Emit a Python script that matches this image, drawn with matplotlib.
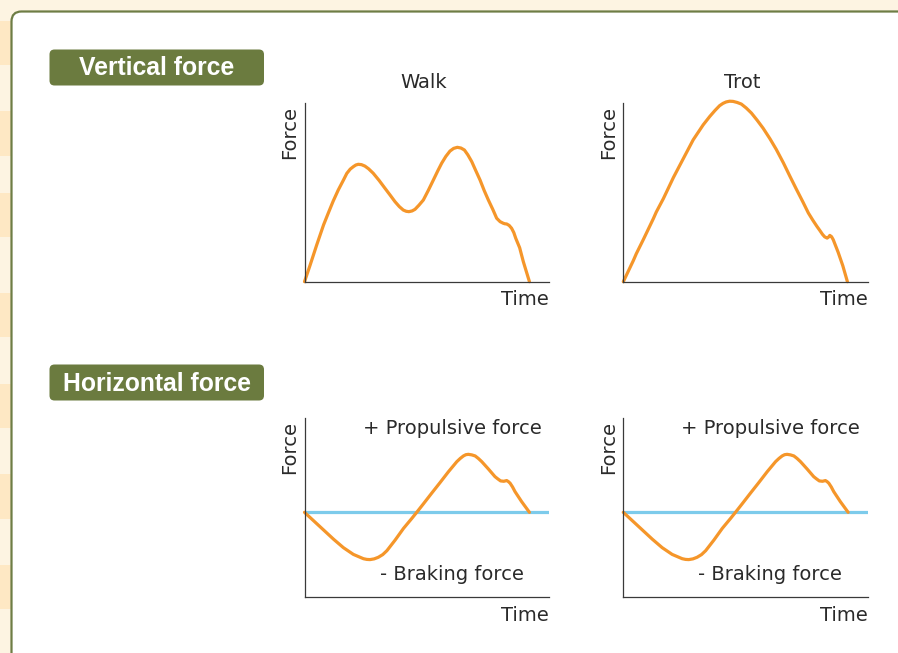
"""
Ground reaction force sketches: vertical / horizontal, walk / trot
"""
import matplotlib.pyplot as plt
from matplotlib.patches import Rectangle, FancyBboxPatch

# data (time and force as fraction of the axis length)
walk_t = [0, 0.023, 0.050, 0.078, 0.097, 0.117, 0.138, 0.159, 0.173, 0.187, 0.200,
          0.210, 0.220, 0.233, 0.247, 0.262, 0.281, 0.305, 0.329, 0.350, 0.370, 0.388,
          0.404, 0.416, 0.427, 0.440, 0.452, 0.468, 0.486, 0.506, 0.527, 0.545, 0.561,
          0.578, 0.595, 0.610, 0.625, 0.640, 0.654, 0.668, 0.684, 0.700, 0.718, 0.735,
          0.752, 0.770, 0.786, 0.800, 0.813, 0.820, 0.827, 0.837, 0.847, 0.856, 0.864,
          0.880, 0.895, 0.920]
walk_f = [0, 0.093, 0.206, 0.318, 0.383, 0.450, 0.513, 0.568, 0.606, 0.630, 0.644,
          0.653, 0.657, 0.655, 0.647, 0.632, 0.607, 0.567, 0.523, 0.485, 0.448, 0.420,
          0.401, 0.394, 0.392, 0.396, 0.405, 0.428, 0.457, 0.510, 0.569, 0.620, 0.663,
          0.701, 0.731, 0.746, 0.752, 0.748, 0.737, 0.710, 0.672, 0.623, 0.569, 0.510,
          0.457, 0.405, 0.355, 0.336, 0.327, 0.324, 0.323, 0.315, 0.299, 0.275, 0.243,
          0.190, 0.112, 0]

trot_t = [0, 0.041, 0.053, 0.082, 0.123, 0.135, 0.164, 0.205, 0.246, 0.286, 0.327,
          0.354, 0.375, 0.394, 0.408, 0.421, 0.435, 0.449, 0.466, 0.483, 0.503, 0.524,
          0.548, 0.572, 0.600, 0.626, 0.655, 0.681, 0.708, 0.735, 0.757, 0.776, 0.792,
          0.804, 0.815, 0.824, 0.834, 0.840, 0.845, 0.852, 0.859, 0.879, 0.898, 0.917]
trot_f = [0, 0.118, 0.156, 0.236, 0.353, 0.390, 0.465, 0.583, 0.690, 0.794, 0.878,
          0.925, 0.958, 0.985, 0.998, 1.006, 1.010, 1.009, 1.003, 0.994, 0.972, 0.944,
          0.903, 0.859, 0.800, 0.740, 0.665, 0.592, 0.518, 0.446, 0.385, 0.343, 0.310,
          0.287, 0.265, 0.251, 0.244, 0.250, 0.259, 0.252, 0.235, 0.165, 0.090, 0]

horiz_t = [0, 0.037, 0.078, 0.119, 0.159, 0.200, 0.241, 0.255, 0.268, 0.285, 0.302,
           0.320, 0.337, 0.371, 0.405, 0.439, 0.459, 0.486, 0.520, 0.554, 0.589, 0.623,
           0.637, 0.650, 0.660, 0.670, 0.684, 0.698, 0.711, 0.725, 0.752, 0.779, 0.790,
           0.802, 0.815, 0.827, 0.834, 0.841, 0.851, 0.861, 0.888, 0.920]
horiz_f = [0, -0.047, -0.099, -0.151, -0.198, -0.236, -0.260, -0.264, -0.265, -0.261,
           -0.252, -0.237, -0.215, -0.155, -0.090, -0.034, 0, 0.047, 0.107, 0.166, 0.228,
           0.284, 0.302, 0.316, 0.323, 0.325, 0.322, 0.316, 0.302, 0.284, 0.243, 0.200,
           0.188, 0.176, 0.174, 0.178, 0.172, 0.163, 0.142, 0.116, 0.060, 0]

W, H = 898, 653
ORANGE = '#F5962A'
BLUE = '#7DCBEB'
GREEN = '#6B7B3F'
INK = '#2a2a2a'

fig = plt.figure(figsize=(W / 100, H / 100), dpi=100, facecolor='#FDF4E2')

# background layer in pixel units (y down)
bg = fig.add_axes([0, 0, 1, 1], zorder=0)
bg.set_xlim(0, W)
bg.set_ylim(H, 0)
bg.axis('off')

# faint stripes on the left edge
for y0, y1 in [(21, 65), (111, 156), (193, 237), (293, 337), (384, 428), (474, 519), (565, 609)]:
    bg.add_patch(Rectangle((0, y0), W, y1 - y0, facecolor='#FEE8C4', edgecolor='none'))

# white panel
bg.add_patch(FancyBboxPatch((11.5, 11.5), 950, 700,
                            boxstyle='round,pad=0,rounding_size=10',
                            facecolor='white', edgecolor='#6E7D45', lw=1.6))

# green section labels
for label, y_top, y_base in [('Vertical force', 49.5, 75), ('Horizontal force', 364.5, 391)]:
    bg.add_patch(FancyBboxPatch((49.5, y_top), 214.5, 36,
                                boxstyle='round,pad=0,rounding_size=5',
                                facecolor=GREEN, edgecolor='none'))
    bg.text(156.7, y_base, label, color='white', fontsize=17.8, fontweight='bold',
            family='Liberation Sans', ha='center', va='baseline')

TXT = dict(color=INK, fontsize=14, family='DejaVu Sans')


def make_axes(left, right, top, bottom, ylim):
    ax = fig.add_axes([left / W, 1 - bottom / H, (right - left) / W, (bottom - top) / H],
                      zorder=2)
    ax.patch.set_alpha(0)
    ax.set_xlim(0, 1)
    ax.set_ylim(*ylim)
    for side in ['top', 'right']:
        ax.spines[side].set_visible(False)
    for side in ['left', 'bottom']:
        ax.spines[side].set_color('#3a3a3a')
        ax.spines[side].set_linewidth(0.9)
    ax.set_xticks([])
    ax.set_yticks([])
    return ax


# vertical force
panels = [(walk_t, walk_f, 304.5, 549, 'Walk', 424), (trot_t, trot_f, 623.3, 867.7, 'Trot', 742)]
for t, f, left, right, title, tx in panels:
    ax = make_axes(left, right, 103, 281.7, (0, 1))
    ax.plot(t, f, color=ORANGE, lw=2.3, solid_joinstyle='round', solid_capstyle='round',
            clip_on=False)
    bg.text(tx, 88, title, ha='center', va='baseline', **TXT)
    bg.text(left - 15, 132.5, 'Force', rotation=90, ha='center', va='center', **TXT)
    bg.text(right, 305, 'Time', ha='right', va='baseline', **TXT)

# horizontal force (same curve for both gaits)
for left, right in [(304.5, 549), (623.3, 867.7)]:
    ax = make_axes(left, right, 418.3, 596.7, (-0.473, 0.527))
    ax.axhline(0, color=BLUE, lw=2.3)
    ax.plot(horiz_t, horiz_f, color=ORANGE, lw=2.3, solid_joinstyle='round',
            solid_capstyle='round', clip_on=False)
    bg.text(left - 15, 447, 'Force', rotation=90, ha='center', va='center', **TXT)
    bg.text(right, 620.7, 'Time', ha='right', va='baseline', **TXT)
    bg.text(right - 7.5, 434.3, '+ Propulsive force', ha='right', va='baseline', **TXT)
    bg.text(right - 25.5, 580, '- Braking force', ha='right', va='baseline', **TXT)

fig.savefig('out.png', dpi=100, facecolor=fig.get_facecolor())
